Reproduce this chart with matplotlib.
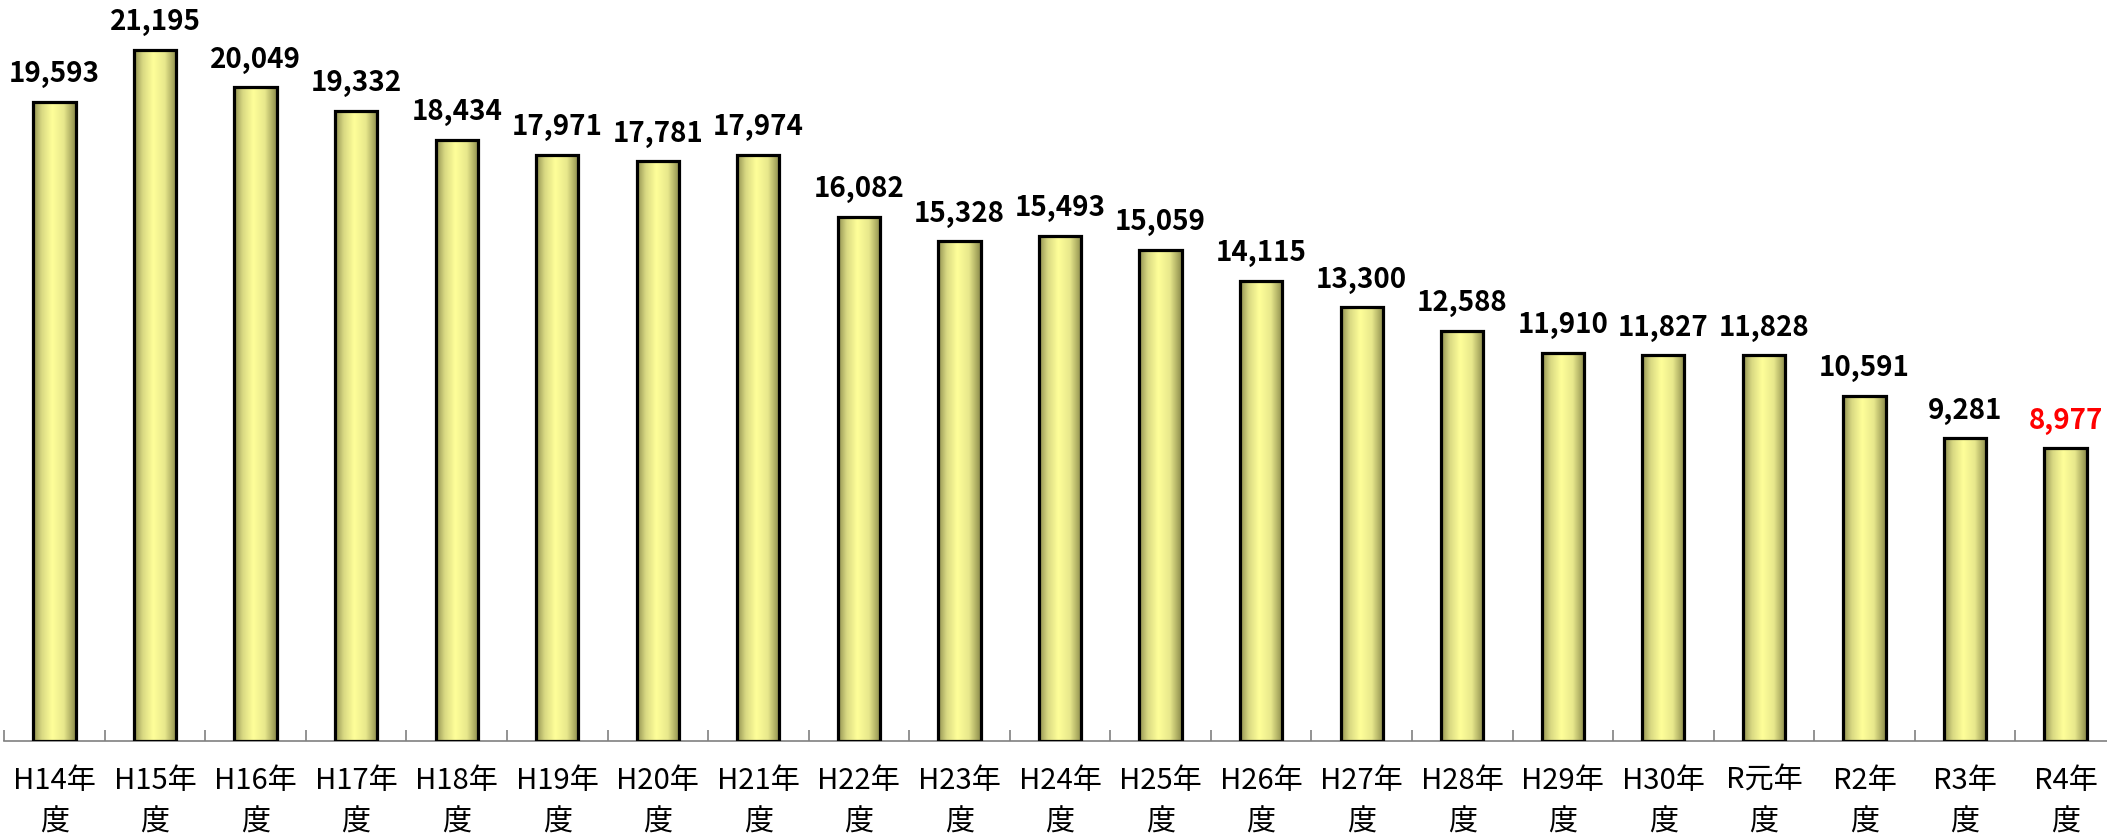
import numpy as np
import matplotlib.pyplot as plt
from matplotlib.colors import LinearSegmentedColormap

years = ["H14", "H15", "H16", "H17", "H18", "H19", "H20", "H21", "H22", "H23",
         "H24", "H25", "H26", "H27", "H28", "H29", "H30", "R元", "R2", "R3", "R4"]
counts = [19593, 21195, 20049, 19332, 18434, 17971, 17781, 17974, 16082, 15328,
          15493, 15059, 14115, 13300, 12588, 11910, 11827, 11828, 10591, 9281, 8977]
labels = [y + "年\n度" for y in years]

plt.rcParams['font.family'] = ['Noto Sans CJK JP', 'DejaVu Sans']

fig = plt.figure(figsize=(21.07, 8.35), dpi=100)
ax = fig.add_axes([0.002, 0.1126, 1.0022, 0.8874])

x = np.arange(len(counts))
bars = ax.bar(x, counts, width=0.42, facecolor='none', edgecolor='black',
              linewidth=2.3, zorder=3)

# horizontal shading inside each bar
cmap = LinearSegmentedColormap.from_list(
    "olive", [(0.0, "#8f8f50"), (0.2, "#d8d882"), (0.45, "#ffff99"),
              (0.72, "#e8e88c"), (1.0, "#8a8a4a")])
grad = np.linspace(0, 1, 256).reshape(1, -1)
for b in bars:
    x0, w, h = b.get_x(), b.get_width(), b.get_height()
    im = ax.imshow(grad, cmap=cmap, aspect='auto', extent=(x0, x0 + w, 0, h),
                   zorder=2, interpolation='bicubic')
    im.set_clip_path(b)

for i, v in enumerate(counts):
    color = 'red' if i == len(counts) - 1 else 'black'
    ax.text(i, v + 420, f"{v:,}", ha='center', va='bottom', fontsize=20,
            fontweight='bold', color=color, zorder=4)

ax.set_xlim(-0.5, len(counts) - 0.5)
ax.set_ylim(0, 22727)

for s in ['top', 'right', 'left']:
    ax.spines[s].set_visible(False)
ax.spines['bottom'].set_color('#808080')
ax.spines['bottom'].set_linewidth(1.2)

ax.set_yticks([])
ax.set_xticks(x)
ax.set_xticklabels(labels, fontsize=21, linespacing=1.5)
ax.tick_params(axis='x', which='major', length=0, pad=18)
ax.set_xticks(np.arange(len(counts)) - 0.5, minor=True)
ax.tick_params(axis='x', which='minor', direction='in', length=8,
               width=1.2, color='#808080')

fig.savefig("out.png", dpi=100)
